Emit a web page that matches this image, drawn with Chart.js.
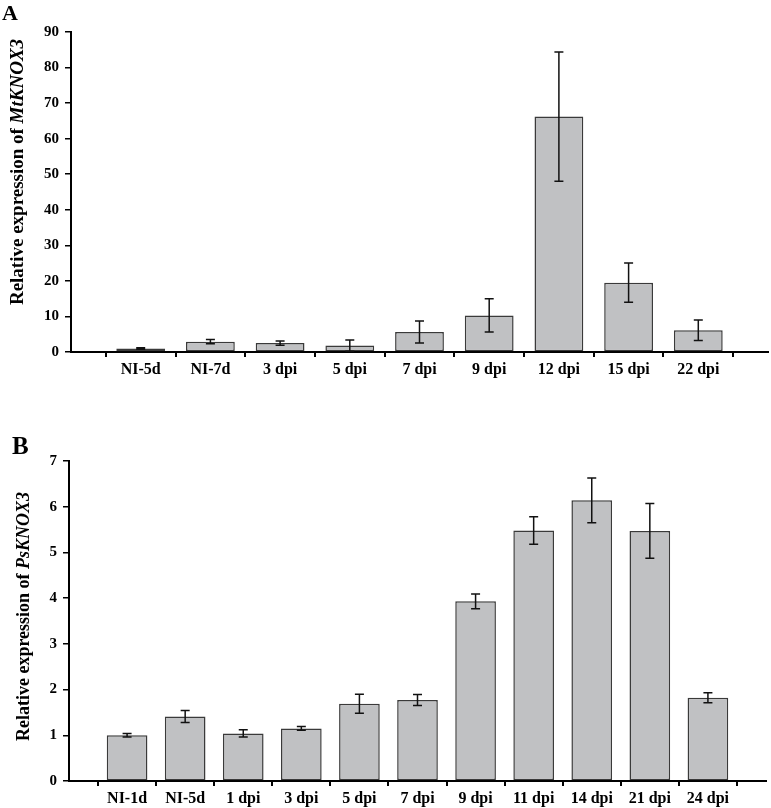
<!DOCTYPE html>
<html>
<head>
<meta charset="utf-8">
<script src="https://cdn.jsdelivr.net/npm/chart.js@4.4.0/dist/chart.umd.min.js"></script>
<style>
  body { margin: 0; background: #fff; width: 771px; height: 808px; position: relative; overflow: hidden; }
  canvas { position: absolute; left: 0; }
  .letter { position: absolute; z-index: 2; font-family: "Liberation Serif", serif; font-weight: bold; color: #000; line-height: 1; }
</style>
</head>
<body>
<canvas id="chartA" style="top:0" width="771" height="385"></canvas>
<canvas id="chartB" style="top:395px" width="771" height="413"></canvas>
<div class="letter" style="left:2px;top:2px;font-size:22px">A</div>
<div class="letter" style="left:12px;top:433px;font-size:25px">B</div>
<script>
  // panel A - MtKNOX3
  const categoriesA = ["NI-5d", "NI-7d", "3 dpi", "5 dpi", "7 dpi", "9 dpi", "12 dpi", "15 dpi", "22 dpi"];
  const valuesA = [1.0, 2.9, 2.5, 1.8, 5.6, 10.3, 66.2, 19.5, 6.1];
  const errorsA = [0.2, 0.6, 0.6, 1.6, 3.1, 4.7, 18.2, 5.5, 2.9];
  const yTicksA = [0, 10, 20, 30, 40, 50, 60, 70, 80, 90];

  // panel B - PsKNOX3
  const categoriesB = ["NI-1d", "NI-5d", "1 dpi", "3 dpi", "5 dpi", "7 dpi", "9 dpi", "11 dpi", "14 dpi", "21 dpi", "24 dpi"];
  const valuesB = [1.0, 1.41, 1.04, 1.15, 1.69, 1.77, 3.93, 5.48, 6.14, 5.47, 1.82];
  const errorsB = [0.04, 0.13, 0.08, 0.04, 0.21, 0.12, 0.16, 0.3, 0.49, 0.6, 0.11];
  const yTicksB = [0, 1, 2, 3, 4, 5, 6, 7];

  const xFont = { family: "Liberation Serif", weight: "bold", size: 16 };
  const yFont = { family: "Liberation Serif", weight: "bold", size: 15 };

  const errorBars = {
    id: "errorBars",
    afterDatasetsDraw(chart) {
      const ctx = chart.ctx;
      const y = chart.scales.y;
      chart.data.datasets.forEach((ds, di) => {
        const meta = chart.getDatasetMeta(di);
        meta.data.forEach((bar, i) => {
          const v = ds.data[i], e = ds.errors[i];
          if (v == null || e == null) return;
          const top = y.getPixelForValue(v + e);
          const bot = y.getPixelForValue(v - e);
          ctx.save();
          ctx.strokeStyle = "#111";
          ctx.lineWidth = 1.5;
          ctx.beginPath();
          ctx.moveTo(bar.x, top); ctx.lineTo(bar.x, bot);
          ctx.moveTo(bar.x - 4.5, top); ctx.lineTo(bar.x + 4.5, top);
          ctx.moveTo(bar.x - 4.5, bot); ctx.lineTo(bar.x + 4.5, bot);
          ctx.stroke();
          ctx.restore();
        });
      });
    }
  };

  // y title with the gene name in italics
  const axisTitle = {
    id: "axisTitle",
    afterDraw(chart, args, opts) {
      const ctx = chart.ctx;
      const f1 = `bold ${opts.size}px "Liberation Serif"`;
      const f2 = `italic bold ${opts.size}px "Liberation Serif"`;
      ctx.save();
      ctx.translate(opts.x, opts.y);
      ctx.rotate(-Math.PI / 2);
      ctx.textBaseline = "middle";
      ctx.textAlign = "left";
      ctx.fillStyle = "#000";
      ctx.font = f1;
      const w1 = ctx.measureText(opts.text).width;
      ctx.font = f2;
      const w2 = ctx.measureText(opts.gene).width;
      const start = -(w1 + w2) / 2;
      ctx.font = f1;
      ctx.fillText(opts.text, start, 0);
      ctx.font = f2;
      ctx.fillText(opts.gene, start + w1, 0);
      ctx.restore();
    }
  };

  function makeChart(id, cats, vals, errs, yTicks, o) {
    return new Chart(document.getElementById(id), {
      type: "bar",
      data: {
        labels: ["", ...cats, ""],
        datasets: [{
          data: [null, ...vals, null],
          errors: [null, ...errs, null],
          backgroundColor: "#c0c1c3",
          borderColor: "#3a3a3a",
          borderWidth: 1.5,
          borderSkipped: false,
          barPercentage: 0.7,
          categoryPercentage: 1
        }]
      },
      options: {
        responsive: false,
        animation: false,
        devicePixelRatio: 1,
        layout: { padding: { top: o.top, right: o.right, left: 0, bottom: 0 } },
        plugins: {
          legend: { display: false },
          tooltip: { enabled: false },
          axisTitle: { text: "Relative expression of ", gene: o.gene, x: o.tx, y: o.ty, size: o.tsize }
        },
        scales: {
          x: {
            type: "category",
            offset: false,
            grid: { offset: true, drawOnChartArea: false, tickLength: 5, color: "#000", lineWidth: 2 },
            border: { color: "#000", width: 2 },
            ticks: { autoSkip: false, maxRotation: 0, color: "#000", font: xFont, padding: 3 },
            afterFit(s) { s.height = o.xh; }
          },
          y: {
            min: yTicks[0],
            max: yTicks[yTicks.length - 1],
            afterBuildTicks(s) { s.ticks = yTicks.map(v => ({ value: v })); },
            grid: { drawOnChartArea: false, tickLength: 6, color: "#000", lineWidth: 1.5 },
            border: { color: "#000", width: 2 },
            ticks: { color: "#000", font: yFont, padding: 6 },
            afterFit(s) { s.width = o.yw; }
          }
        }
      },
      plugins: [errorBars, axisTitle]
    });
  }

  makeChart("chartA", categoriesA, valuesA, errorsA, yTicksA,
    { top: 32, right: 3, xh: 33, yw: 71, gene: "MtKNOX3", tx: 18, ty: 172, tsize: 19 });
  makeChart("chartB", categoriesB, valuesB, errorsB, yTicksB,
    { top: 66, right: 5, xh: 27, yw: 69, gene: "PsKNOX3", tx: 24, ty: 221.5, tsize: 18 });
</script>
</body>
</html>
